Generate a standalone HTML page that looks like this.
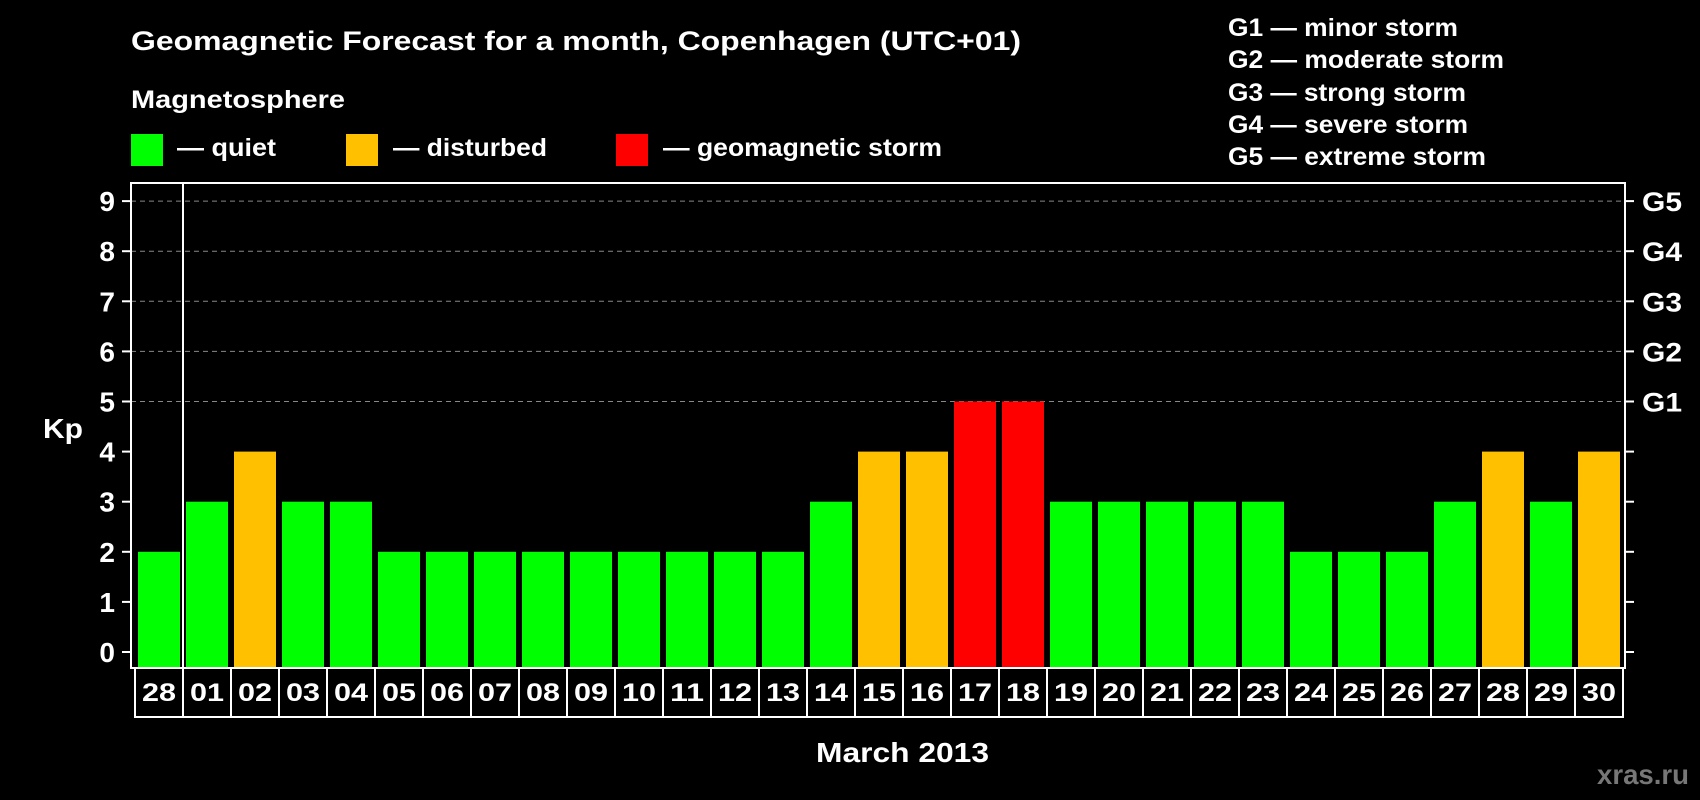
<!DOCTYPE html>
<html><head><meta charset="utf-8"><style>
html,body{margin:0;padding:0;background:#000;}
svg{display:block;}
svg text{font-family:"Liberation Sans",Arial,Helvetica,sans-serif;font-weight:bold;}
</style></head><body>
<svg id="chart" width="1700" height="800" viewBox="0 0 1700 800" xmlns="http://www.w3.org/2000/svg">
<rect width="1700" height="800" fill="#000"/>
<text x="131" y="50" fill="#fff" font-size="27" textLength="890" lengthAdjust="spacingAndGlyphs">Geomagnetic Forecast for a month, Copenhagen (UTC+01)</text>
<text x="131" y="108" fill="#fff" font-size="25" textLength="214" lengthAdjust="spacingAndGlyphs">Magnetosphere</text>
<g><rect x="131" y="134" width="32" height="32" fill="#00ff00"/><text x="177" y="156" fill="#fff" font-size="25" textLength="99" lengthAdjust="spacingAndGlyphs">— quiet</text></g>
<g><rect x="346" y="134" width="32" height="32" fill="#ffc000"/><text x="393" y="156" fill="#fff" font-size="25" textLength="154" lengthAdjust="spacingAndGlyphs">— disturbed</text></g>
<g><rect x="616" y="134" width="32" height="32" fill="#ff0000"/><text x="663" y="156" fill="#fff" font-size="25" textLength="279" lengthAdjust="spacingAndGlyphs">— geomagnetic storm</text></g>
<g fill="#fff" font-size="25">
<text x="1228" y="36" textLength="230" lengthAdjust="spacingAndGlyphs">G1 — minor storm</text>
<text x="1228" y="68" textLength="276" lengthAdjust="spacingAndGlyphs">G2 — moderate storm</text>
<text x="1228" y="101" textLength="238" lengthAdjust="spacingAndGlyphs">G3 — strong storm</text>
<text x="1228" y="133" textLength="240" lengthAdjust="spacingAndGlyphs">G4 — severe storm</text>
<text x="1228" y="165" textLength="258" lengthAdjust="spacingAndGlyphs">G5 — extreme storm</text>
</g>
<text x="43" y="438" fill="#fff" font-size="28" textLength="40" lengthAdjust="spacingAndGlyphs">Kp</text>
<text x="816" y="762" fill="#fff" font-size="28" textLength="173" lengthAdjust="spacingAndGlyphs">March 2013</text>
<text x="1597" y="784" fill="#777" font-size="28" textLength="92" lengthAdjust="spacingAndGlyphs">xras.ru</text>
<g id="grid"></g><g id="bars"></g><g id="axes"></g>
</svg>
<script>
const dates=["28","01","02","03","04","05","06","07","08","09","10","11","12","13","14","15","16","17","18","19","20","21","22","23","24","25","26","27","28","29","30"];
const kp=[2,3,4,3,3,2,2,2,2,2,2,2,2,2,3,4,4,5,5,3,3,3,3,3,2,2,2,3,4,3,4];
const yTicks=[0,1,2,3,4,5,6,7,8,9];
const gLabels=["G1","G2","G3","G4","G5"];
const gLevels=[5,6,7,8,9];
const NS="http://www.w3.org/2000/svg";
const L=131,R=1625,T=183,B=668,x0=138,pitch=48,bw=42;
const y=v=>652-v*50.1;
const x=i=>x0+i*pitch;
function mk(t,a,p){const e=document.createElementNS(NS,t);for(const k in a)e.setAttribute(k,a[k]);p.appendChild(e);return e;}
const grid=document.getElementById('grid'),bars=document.getElementById('bars'),axes=document.getElementById('axes');
gLevels.forEach((v,i)=>{
const g=mk('line',{x1:L,x2:R,y1:y(v),y2:y(v),stroke:'#888','stroke-dasharray':'5,4','stroke-width':1},grid);


const t=mk('text',{x:1642,y:y(v)+10,fill:'#fff','font-size':27,textLength:40,lengthAdjust:'spacingAndGlyphs'},axes);t.textContent=gLabels[i];


});
kp.forEach((v,i)=>{
const c=v>=5?'#ff0000':(v>=4?'#ffc000':'#00ff00');
const r=mk('rect',{x:x(i),y:y(v),width:bw,height:B-1-y(v),fill:c},bars);


const t=mk('text',{x:x(i)+bw/2-17,y:701,fill:'#fff','font-size':25,textLength:34,lengthAdjust:'spacingAndGlyphs'},axes);t.textContent=dates[i];


if(i>0){const d=mk('line',{x1:x(i)-3,x2:x(i)-3,y1:B,y2:717,stroke:'#fff','stroke-width':2},axes);

}
});
yTicks.forEach(v=>{
const t=mk('text',{x:115,y:y(v)+10,fill:'#fff','font-size':28,'text-anchor':'end'},axes);t.textContent=v;


mk('line',{x1:122,x2:L,y1:y(v),y2:y(v),stroke:'#fff','stroke-width':2},axes);
mk('line',{x1:R,x2:1634,y1:y(v),y2:y(v),stroke:'#fff','stroke-width':2},axes);
});
const f=mk('rect',{x:L,y:T,width:R-L,height:B-T,fill:'none',stroke:'#fff','stroke-width':2},axes);


const m=mk('line',{x1:183,x2:183,y1:T,y2:B,stroke:'#fff','stroke-width':2},axes);


const dr=mk('rect',{x:135,y:B,width:1623-135,height:717-B,fill:'none',stroke:'#fff','stroke-width':2},axes);


</script>
</body></html>
